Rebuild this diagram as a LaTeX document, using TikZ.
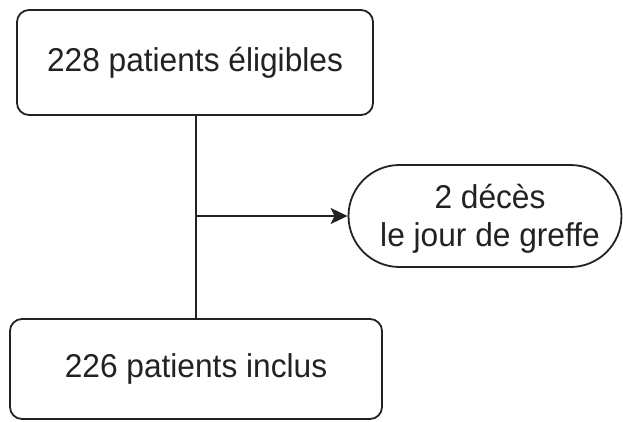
\documentclass[tikz,border=0pt]{standalone}
\usepackage{fontspec}
\setmainfont{Liberation Sans}[FakeStretch=0.96]
\usetikzlibrary{shapes.misc,arrows.meta}
\definecolor{ink}{HTML}{222222}
\begin{document}
\begin{tikzpicture}[x=1pt,y=-1pt,
  txt/.style={text=ink,font=\fontsize{33}{38}\selectfont},
  box/.style={txt,draw=ink,line width=1.8pt,rounded corners=12pt,inner sep=0pt},
  pill/.style={draw=ink,line width=1.8pt,rounded rectangle,inner sep=0pt},
  conn/.style={draw=ink,line width=1.8pt},
  arr/.style={conn,-{Stealth[length=17pt,width=16pt,inset=4pt]}}]
\useasboundingbox (0,0) rectangle (623,421);
\node[box,minimum width=356pt,minimum height=105pt] (top) at (195,62.5) {228 patients éligibles};
\node[box,minimum width=372pt,minimum height=100pt] (bot) at (196,369) {226 patients inclus};
\node[pill,minimum width=273pt,minimum height=102pt] (dec) at (485,216) {};
\node[txt,align=center,inner sep=0pt] (dectext) at (490,219) {2 décès\\le jour de greffe};
\coordinate (j) at (196,216);
\draw[conn] (top.south -| j) -- (bot.north -| j);
\draw[arr] (j) -- (dec.west);
\end{tikzpicture}
\end{document}
